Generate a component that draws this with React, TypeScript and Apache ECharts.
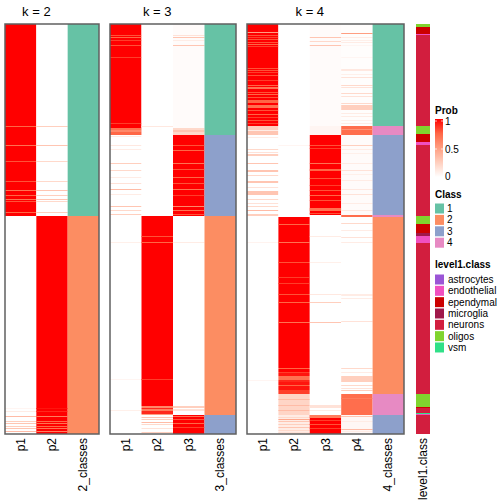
import React, { useEffect, useRef } from 'react';
import * as echarts from 'echarts';

// ---------- data (rows counted from top, 410 samples) ----------
const N_ROWS = 410;
const K2_COLS = ['p1', 'p2', '2_classes'];
const K3_COLS = ['p1', 'p2', 'p3', '3_classes'];
const K4_COLS = ['p1', 'p2', 'p3', 'p4', '4_classes'];
const LEVEL_COLS = ['level1.class'];

const CLASS_NAMES = ['1', '2', '3', '4'];
const CLASS_COLORS = ['#66c2a5', '#fc8d62', '#8da0cb', '#e78ac3'];
const LEVEL_NAMES = ['astrocytes', 'endothelial', 'ependymal', 'microglia', 'neurons', 'oligos', 'vsm'];
const LEVEL_COLORS = ['#9b55d6', '#f050c0', '#cc0000', '#a0184a', '#d21e3e', '#80d42e', '#30e088'];
const PROB_TICKS = ['1', '0.5', '0'];

// segments: [rowStart, rowEnd, probability]
const K2_P1 = [
  [0, 192, 1], [102, 103, 0.75], [121, 122, 0.7], [137, 138, 0.8], [157, 158, 0.8], [166, 167, 0.7],
  [171, 172, 0.75], [175, 176, 0.7], [177, 178, 0.8], [188, 189, 0.75],
  [192, 410, 0], [384, 385, 0.05], [387, 388, 0.1], [392, 393, 0.35], [397, 398, 0.25], [399, 400, 0.3],
  [402, 403, 0.25], [404, 405, 0.3], [407, 408, 0.35],
];
const K2_P2 = [
  [0, 192, 0], [102, 103, 0.25], [121, 122, 0.3], [137, 138, 0.2], [157, 158, 0.2], [166, 167, 0.3],
  [171, 172, 0.25], [175, 176, 0.3], [177, 178, 0.2], [188, 189, 0.25],
  [192, 410, 1], [384, 385, 0.95], [387, 388, 0.9], [392, 393, 0.65], [397, 398, 0.75], [399, 400, 0.7],
  [402, 403, 0.75], [404, 405, 0.7], [407, 408, 0.65],
];
const K2_CLASS = [[0, 192, 1], [192, 410, 2]];

const K3_P1 = [
  [0, 111, 1], [11, 12, 0.8], [13, 14, 0.75], [16, 17, 0.85], [21, 22, 0.8], [33, 34, 0.85], [99, 100, 0.85],
  [104, 106, 0.7], [106, 108, 0.6], [108, 111, 0.75],
  [111, 192, 0], [112, 113, 0.1], [121, 122, 0.12], [125, 126, 0.1], [139, 140, 0.25], [146, 147, 0.2],
  [153, 154, 0.1], [159, 160, 0.15], [165, 166, 0.35], [170, 171, 0.1], [182, 183, 0.3], [186, 187, 0.2],
  [190, 191, 0.25],
  [192, 410, 0], [218, 219, 0.08], [355, 356, 0.05], [386, 387, 0.08],
];
const K3_P2 = [
  [0, 192, 0], [102, 103, 0.12],
  [192, 382, 1], [212, 213, 0.8], [218, 219, 0.75], [355, 356, 0.85],
  [382, 384, 0.6], [384, 385, 0.9], [385, 387, 0.65], [387, 390, 0.9], [390, 391, 0.5],
  [391, 410, 0], [393, 394, 0.3], [395, 396, 0.25], [398, 399, 0.35], [400, 401, 0.2], [404, 405, 0.15],
  [408, 409, 0.25],
];
const K3_P3 = [
  [0, 111, 0.02], [11, 12, 0.15], [13, 14, 0.3], [16, 17, 0.1], [21, 22, 0.3], [104, 106, 0.2],
  [106, 108, 0.3], [108, 111, 0.2],
  [111, 192, 1], [121, 122, 0.8], [126, 127, 0.75], [139, 140, 0.7], [145, 146, 0.8], [153, 154, 0.75],
  [159, 160, 0.8], [165, 166, 0.7], [171, 172, 0.85], [182, 183, 0.6], [186, 187, 0.7], [190, 191, 0.8],
  [192, 391, 0], [218, 219, 0.1], [382, 384, 0.25], [385, 387, 0.15],
  [391, 410, 1], [392, 393, 0.7], [395, 396, 0.8], [399, 400, 0.75], [403, 404, 0.85],
];
const K3_CLASS = [[0, 111, 1], [111, 192, 3], [192, 391, 2], [391, 410, 3]];

const K4_P1 = [
  [0, 102, 1], [8, 9, 0.5], [11, 12, 0.8], [13, 14, 0.85], [15, 16, 0.8], [18, 19, 0.8], [20, 21, 0.75],
  [22, 23, 0.85], [44, 45, 0.8], [46, 47, 0.8], [48, 49, 0.85], [51, 52, 0.8], [56, 57, 0.85], [61, 62, 0.75],
  [63, 65, 0.7], [68, 69, 0.8], [70, 71, 0.75], [73, 74, 0.8], [76, 79, 0.75], [81, 84, 0.7], [86, 87, 0.8],
  [90, 91, 0.75], [93, 94, 0.85], [96, 97, 0.8], [99, 100, 0.85],
  [102, 106, 0.25], [106, 107, 0.1], [107, 111, 0.3],
  [111, 193, 0], [113, 114, 0.1], [125, 126, 0.2], [128, 129, 0.15], [130, 132, 0.25], [139, 140, 0.3],
  [146, 148, 0.3], [151, 152, 0.2], [157, 159, 0.3], [163, 164, 0.15], [167, 171, 0.3], [175, 176, 0.2],
  [179, 180, 0.15], [182, 183, 0.2], [186, 187, 0.35], [190, 192, 0.25],
  [193, 410, 0], [218, 219, 0.06], [356, 357, 0.05],
];
const K4_P2 = [
  [0, 193, 0], [121, 122, 0.05],
  [193, 344, 1], [200, 201, 0.75], [218, 219, 0.7], [238, 239, 0.8], [253, 254, 0.85], [259, 260, 0.85],
  [270, 271, 0.8], [278, 279, 0.75], [298, 299, 0.7],
  [344, 345, 0.75], [345, 348, 1], [348, 349, 0.85], [349, 352, 0.95], [352, 356, 0.7], [356, 358, 0.9],
  [358, 361, 0.95], [361, 362, 0.75], [362, 366, 0.95], [366, 370, 0.85],
  [370, 391, 0.22], [375, 376, 0.35], [381, 382, 0.35], [386, 387, 0.35],
  [391, 410, 0.1], [393, 394, 0.2], [395, 396, 0.45], [397, 398, 0.3], [400, 401, 0.25], [403, 404, 0.3],
  [406, 407, 0.2], [408, 409, 0.15],
];
const K4_P3 = [
  [0, 111, 0.02], [13, 14, 0.3], [17, 18, 0.2], [21, 22, 0.3], [102, 111, 0.05],
  [111, 191, 1], [121, 122, 0.8], [124, 125, 0.85], [139, 140, 0.7], [145, 147, 0.75], [154, 155, 0.8],
  [161, 162, 0.85], [166, 167, 0.8], [171, 172, 0.75], [176, 177, 0.8], [184, 187, 0.7], [189, 190, 0.8],
  [191, 391, 0], [212, 213, 0.1], [238, 239, 0.08], [270, 271, 0.12], [278, 279, 0.25], [298, 299, 0.3],
  [381, 384, 0.15], [386, 387, 0.1],
  [391, 410, 1], [391, 394, 0.65], [396, 397, 0.85], [400, 401, 0.8], [404, 405, 0.85],
];
const K4_P4 = [
  [0, 102, 0.01], [9, 10, 0.5], [13, 14, 0.1], [16, 17, 0.08], [18, 19, 0.1], [21, 22, 0.05], [33, 34, 0.05],
  [45, 47, 0.12], [50, 51, 0.08], [53, 54, 0.15], [61, 62, 0.2], [63, 64, 0.15], [69, 70, 0.2], [72, 73, 0.15],
  [79, 80, 0.2], [81, 86, 0.25], [89, 90, 0.1], [92, 93, 0.1], [96, 97, 0.08], [99, 100, 0.1],
  [102, 111, 0.72], [105, 106, 0.55],
  [111, 191, 0.02], [121, 122, 0.25], [125, 126, 0.1], [129, 130, 0.08], [139, 140, 0.1], [146, 147, 0.15],
  [150, 151, 0.08], [156, 157, 0.1], [165, 166, 0.12], [170, 171, 0.15], [179, 180, 0.1], [186, 187, 0.12],
  [191, 193, 0.72],
  [193, 370, 0], [199, 200, 0.2], [206, 207, 0.1], [213, 214, 0.15], [218, 219, 0.1], [270, 272, 0.1],
  [274, 275, 0.1], [297, 298, 0.15], [344, 345, 0.2], [348, 349, 0.1], [352, 358, 0.25], [361, 362, 0.2],
  [364, 365, 0.15], [366, 367, 0.25],
  [370, 391, 0.72], [374, 375, 0.65],
  [391, 410, 0.04], [392, 393, 0.3], [397, 398, 0.1], [405, 406, 0.35], [407, 408, 0.1],
];
const K4_CLASS = [[0, 102, 1], [102, 111, 4], [111, 191, 3], [191, 193, 4], [193, 370, 2], [370, 391, 4], [391, 410, 3]];

const LEVEL_SEGMENTS: [number, number, string][] = [
  [0, 3, 'oligos'], [3, 10, 'ependymal'], [10, 11, 'endothelial'], [11, 102, 'neurons'],
  [102, 110, 'oligos'], [110, 118, 'ependymal'], [118, 121, 'endothelial'], [121, 192, 'neurons'],
  [192, 200, 'oligos'], [200, 209, 'ependymal'], [209, 212, 'microglia'], [212, 219, 'endothelial'],
  [219, 370, 'neurons'], [370, 383, 'oligos'], [383, 384, 'ependymal'], [384, 389, 'neurons'],
  [389, 390, 'vsm'], [390, 391, 'endothelial'], [391, 410, 'neurons'],
];

// ---------- layout ----------
const TOP = 24;
const HEIGHT = 410;
const PANELS = [
  { left: 5, width: 94, cols: K2_COLS, title: 'k = 2', nProb: 2 },
  { left: 110, width: 126, cols: K3_COLS, title: 'k = 3', nProb: 3 },
  { left: 247, width: 157, cols: K4_COLS, title: 'k = 4', nProb: 4 },
  { left: 416, width: 14, cols: LEVEL_COLS, title: '', nProb: 0 },
];
const FONT = 'Liberation Sans, Arial, Helvetica, sans-serif';
const PROB_STOPS = ['#ffffff', '#ffcfbe', '#ff9e81', '#ff6746', '#ff0000'];

const colSeg = (col: number, segs: number[][]) => segs.map((s) => [col, s[0], s[1], s[2]]);

const probColor = (v: number) => echarts.color.lerp(Math.max(0, Math.min(1, v)), PROB_STOPS) as string;

const makeRender = (colorOf: (v: number) => string) => (params: any, api: any) => {
  const c = api.value(0);
  const r0 = api.value(1);
  const r1 = api.value(2);
  const a = api.coord([c, r0]);
  const b = api.coord([c, r1]);
  const w = api.size([1, 0])[0];
  return {
    type: 'rect',
    shape: { x: a[0] - w / 2, y: Math.min(a[1], b[1]), width: w, height: Math.abs(b[1] - a[1]) },
    style: { fill: colorOf(api.value(3)) },
  };
};

export default function App() {
  const ref = useRef<HTMLDivElement>(null);
  useEffect(() => {
    if (!ref.current) return;
    const chart = echarts.init(ref.current, null, { renderer: 'svg' });

    const grid = PANELS.map((p) => ({ left: p.left, top: TOP, width: p.width, height: HEIGHT, containLabel: false }));
    const xAxis = PANELS.map((p, i) => ({
      type: 'category',
      gridIndex: i,
      data: p.cols,
      axisLine: { show: false },
      axisTick: { show: false },
      splitLine: { show: false },
      axisLabel: { rotate: 90, margin: 4, fontSize: 12, color: '#000', fontFamily: FONT, interval: 0 },
    }));
    const yAxis = PANELS.map((p, i) => ({
      type: 'value',
      gridIndex: i,
      min: 0,
      max: N_ROWS,
      inverse: true,
      show: false,
      splitLine: { show: false },
    }));

    const cellSeries = (i: number, data: number[][], colorOf: (v: number) => string) => ({
      type: 'custom', xAxisIndex: i, yAxisIndex: i, renderItem: makeRender(colorOf), data,
      encode: { x: 0, y: [1, 2] }, silent: true,
    });
    const classColor = (v: number) => CLASS_COLORS[v];
    const levelColor = (v: number) => LEVEL_COLORS[v];

    const series = [
      cellSeries(0, [...colSeg(0, K2_P1), ...colSeg(1, K2_P2)], probColor),
      cellSeries(0, K2_CLASS.map((s) => [2, s[0], s[1], s[2] - 1]), classColor),
      cellSeries(1, [...colSeg(0, K3_P1), ...colSeg(1, K3_P2), ...colSeg(2, K3_P3)], probColor),
      cellSeries(1, K3_CLASS.map((s) => [3, s[0], s[1], s[2] - 1]), classColor),
      cellSeries(2, [...colSeg(0, K4_P1), ...colSeg(1, K4_P2), ...colSeg(2, K4_P3), ...colSeg(3, K4_P4)], probColor),
      cellSeries(2, K4_CLASS.map((s) => [4, s[0], s[1], s[2] - 1]), classColor),
      cellSeries(3, LEVEL_SEGMENTS.map((s) => [0, s[0], s[1], LEVEL_NAMES.indexOf(s[2])]), levelColor),
    ];

    const graphics: any[] = [];
    PANELS.forEach((p) => {
      if (p.nProb > 0) {
        graphics.push({
          type: 'rect', z: 100, silent: true,
          shape: { x: p.left, y: TOP, width: p.width, height: HEIGHT },
          style: { fill: 'none', stroke: '#606060', lineWidth: 1.5 },
        });
        const cw = p.width / p.cols.length;
        graphics.push({
          type: 'text', z: 100, x: p.left + (cw * p.nProb) / 2, y: 11,
          style: { text: p.title, fontSize: 13, fontFamily: FONT, fill: '#000', align: 'center', verticalAlign: 'middle' },
        });
      }
    });

    // legend: Prob
    const LX = 435;
    graphics.push({ type: 'text', x: LX, y: 110, style: { text: 'Prob', fontSize: 10, fontWeight: 'bold', fontFamily: FONT, fill: '#000', verticalAlign: 'middle' } });
    graphics.push({
      type: 'rect', shape: { x: LX, y: 119, width: 8, height: 58 },
      style: {
        fill: new echarts.graphic.LinearGradient(0, 0, 0, 1, [
          { offset: 0, color: PROB_STOPS[4] }, { offset: 0.25, color: PROB_STOPS[3] },
          { offset: 0.5, color: PROB_STOPS[2] }, { offset: 0.75, color: PROB_STOPS[1] },
          { offset: 1, color: PROB_STOPS[0] },
        ]),
      },
    });
    const tickY = [121, 149, 176];
    PROB_TICKS.forEach((t, i) => {
      graphics.push({ type: 'text', x: LX + 10, y: tickY[i], style: { text: t, fontSize: 10, fontFamily: FONT, fill: '#000', verticalAlign: 'middle' } });
      if (i < 2) {
        graphics.push({ type: 'line', shape: { x1: LX, y1: tickY[i], x2: LX + 2, y2: tickY[i] }, style: { stroke: '#ffffff', lineWidth: 1, opacity: 0.7 } });
        graphics.push({ type: 'line', shape: { x1: LX + 6, y1: tickY[i], x2: LX + 8, y2: tickY[i] }, style: { stroke: '#ffffff', lineWidth: 1, opacity: 0.7 } });
      }
    });

    // legend: Class
    graphics.push({ type: 'text', x: LX, y: 194, style: { text: 'Class', fontSize: 10, fontWeight: 'bold', fontFamily: FONT, fill: '#000', verticalAlign: 'middle' } });
    CLASS_NAMES.forEach((n, i) => {
      const cy = 208.5 + i * 11.4;
      graphics.push({ type: 'rect', shape: { x: LX, y: cy - 5, width: 9, height: 10 }, style: { fill: CLASS_COLORS[i] } });
      graphics.push({ type: 'text', x: LX + 12, y: cy, style: { text: n, fontSize: 10, fontFamily: FONT, fill: '#000', verticalAlign: 'middle' } });
    });

    // legend: level1.class
    graphics.push({ type: 'text', x: LX, y: 264, style: { text: 'level1.class', fontSize: 10, fontWeight: 'bold', fontFamily: FONT, fill: '#000', verticalAlign: 'middle' } });
    LEVEL_NAMES.forEach((n, i) => {
      const cy = 279.5 + i * 11.33;
      graphics.push({ type: 'rect', shape: { x: LX, y: cy - 5, width: 9, height: 10 }, style: { fill: LEVEL_COLORS[i] } });
      graphics.push({ type: 'text', x: LX + 13, y: cy, style: { text: n, fontSize: 10, fontFamily: FONT, fill: '#000', verticalAlign: 'middle' } });
    });

    chart.setOption({
      animation: false,
      backgroundColor: '#ffffff',
      grid,
      xAxis,
      yAxis,
      series,
      graphic: graphics,
    });
    return () => chart.dispose();
  }, []);
  return <div ref={ref} style={{ position: 'absolute', left: 0, top: 0, width: 504, height: 504 }} />;
}
